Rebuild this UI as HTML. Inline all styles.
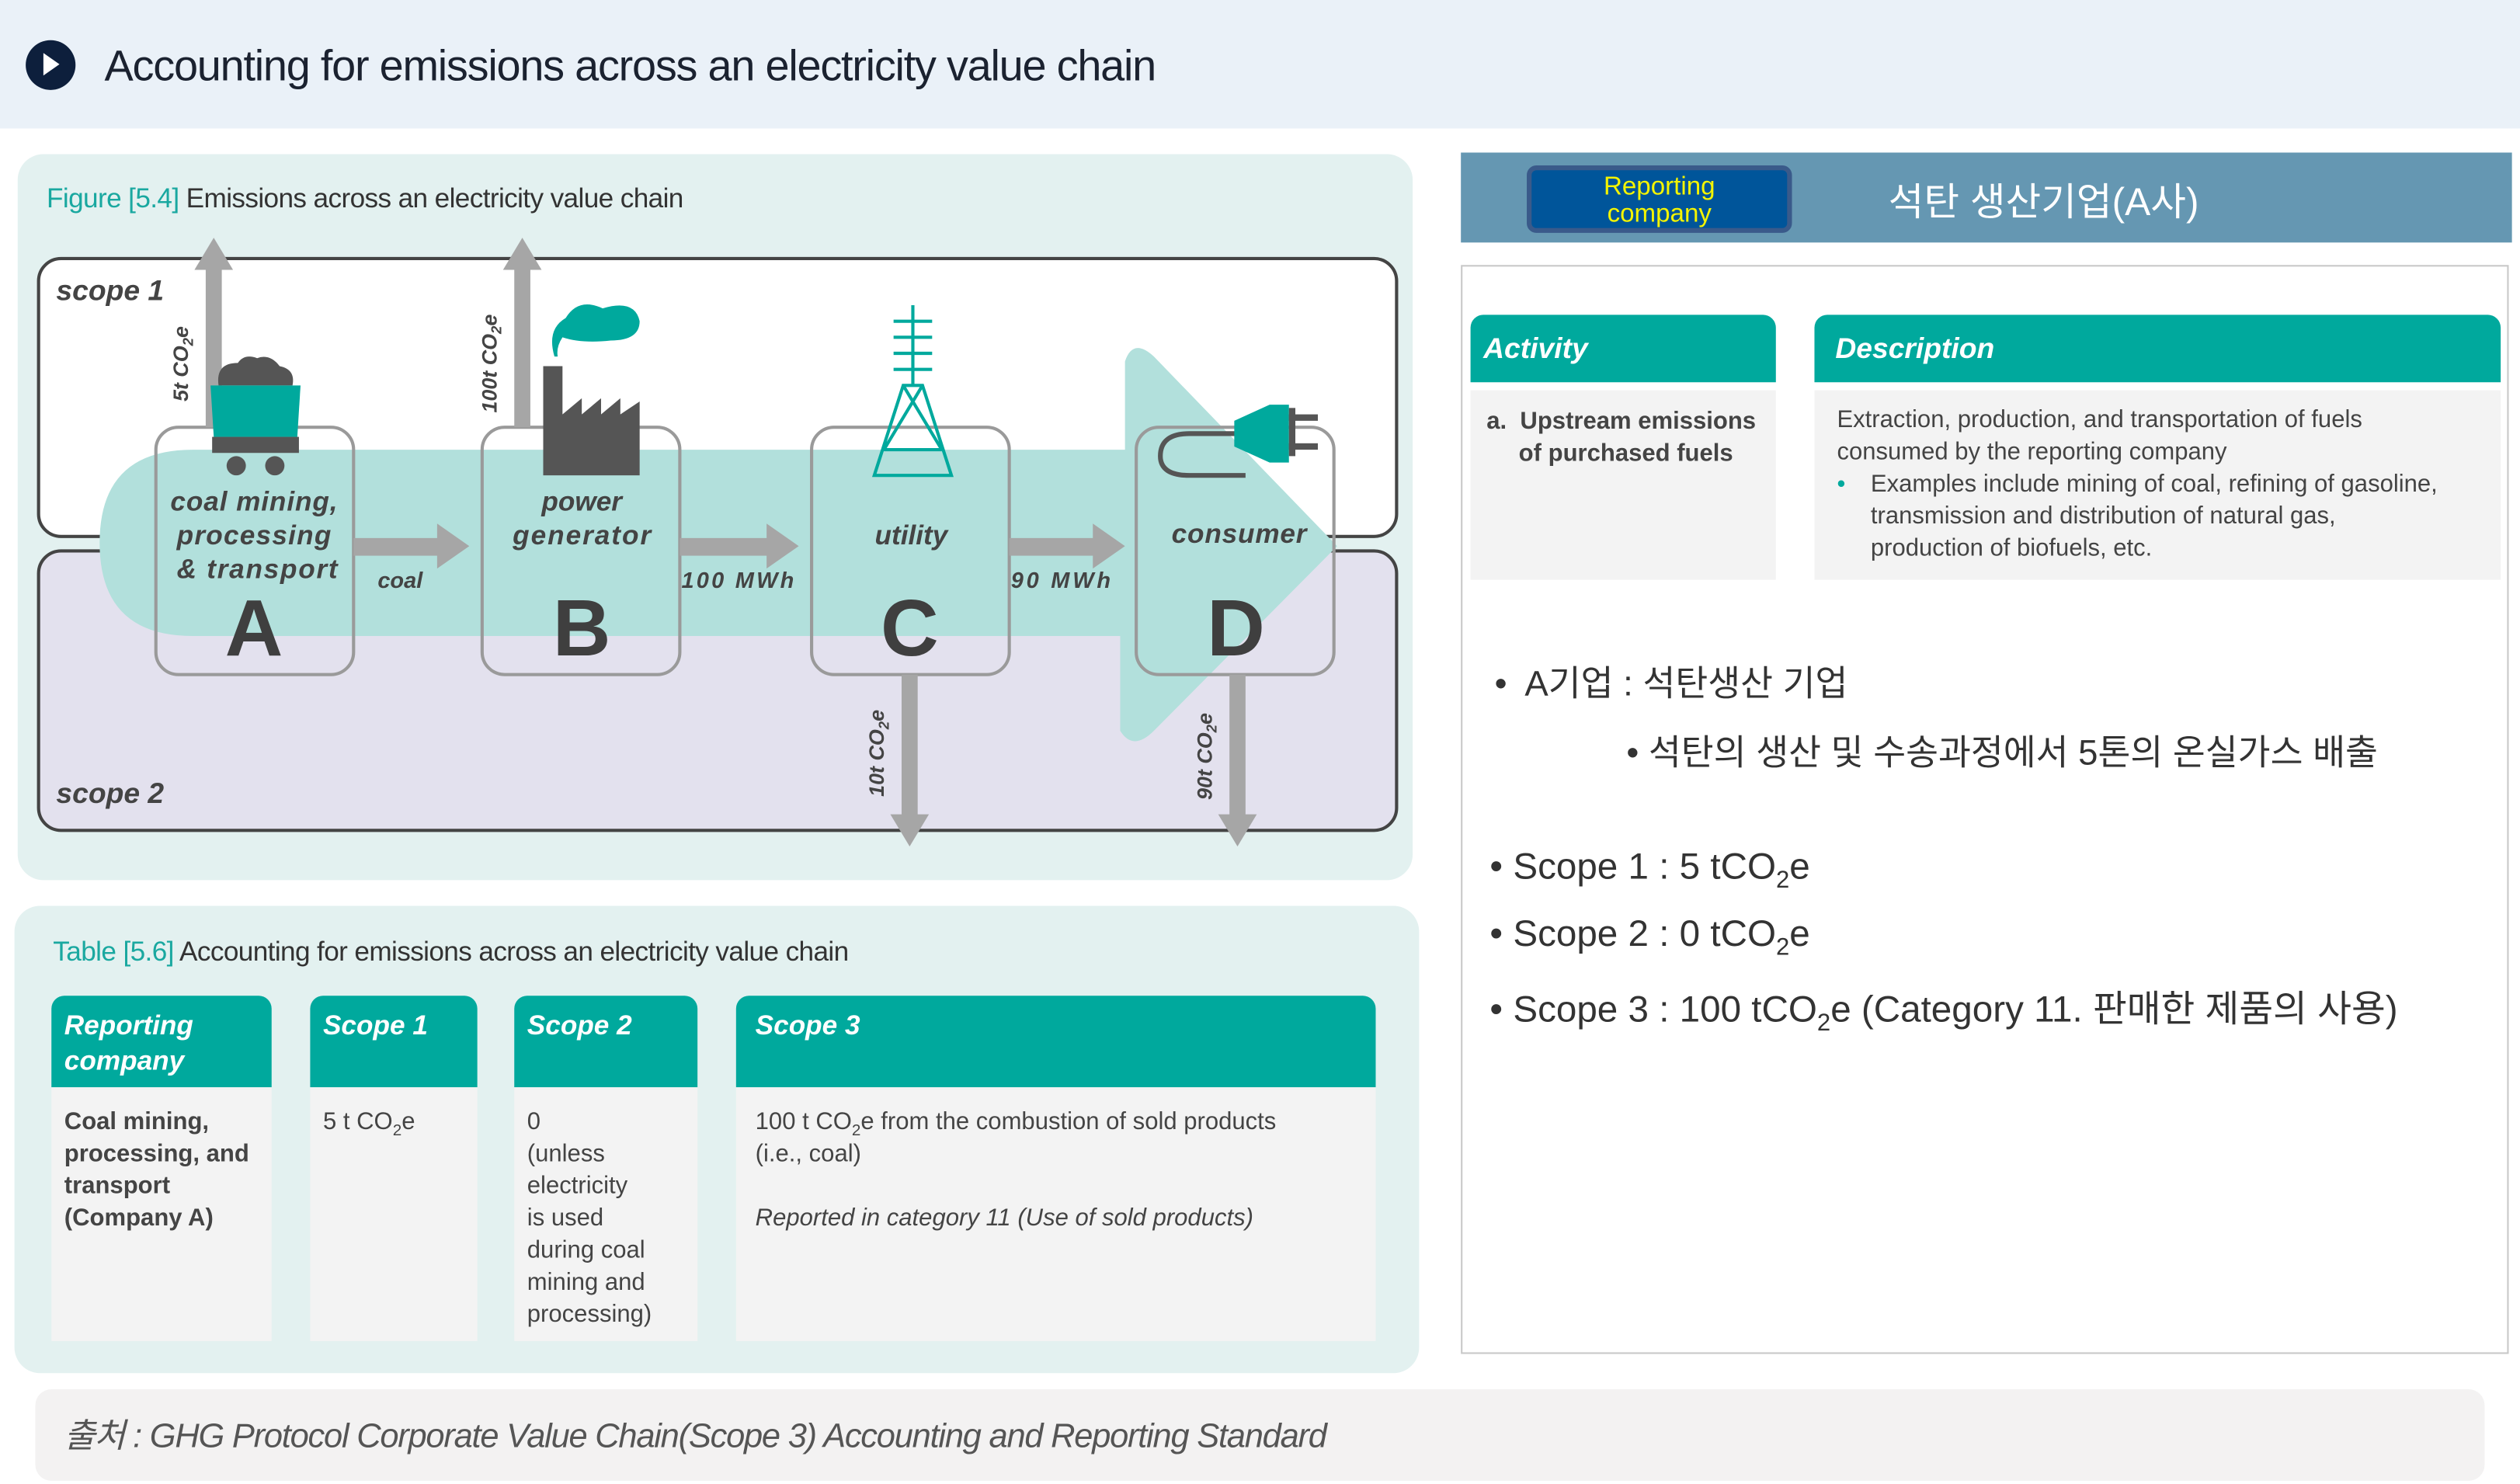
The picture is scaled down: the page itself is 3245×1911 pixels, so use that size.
<!DOCTYPE html>
<html><head><meta charset="utf-8">
<style>
html,body{margin:0;padding:0;background:#fff;}
body{width:3245px;height:1911px;overflow:hidden;position:relative;}
#w{position:absolute;left:0;top:0;width:1568px;height:924px;transform:scale(2.0695,2.0682);transform-origin:0 0;font-family:"Liberation Sans","Noto Sans CJK KR",sans-serif;color:#333;}
.a{position:absolute;}
sub{line-height:0;font-size:10px;}
.th{background:#00a99d;color:#fff;font-weight:bold;font-style:italic;font-size:17px;border-radius:8px 8px 0 0;box-sizing:border-box;padding:8px 8px;line-height:22px;}
.tb{background:#f3f3f3;font-size:15px;line-height:20px;box-sizing:border-box;padding:12px 8px;color:#444;}
.kr{font-family:"Liberation Sans","Noto Sans CJK KR",sans-serif;}
</style></head><body><div id="w">
<div class="a" style="left:0;top:0;width:1568px;height:80px;background:#eaf1f8"></div>
<div class="a" style="left:16px;top:25px;width:31px;height:31px;border-radius:50%;background:#0d1f3c"></div>
<div class="a" style="left:27px;top:33px;width:0;height:0;border-left:10px solid #fff;border-top:7px solid transparent;border-bottom:7px solid transparent"></div>
<div class="a" style="left:65px;top:26px;font-size:27px;color:#1b2230;white-space:nowrap;letter-spacing:-0.6px">Accounting for emissions across an electricity value chain</div>

<div class="a" style="left:11px;top:96px;width:868px;height:452px;background:#e3f1f0;border-radius:16px"></div>
<div class="a" style="left:29px;top:114px;font-size:17px;white-space:nowrap;letter-spacing:-0.3px"><span style="color:#1aa8a0">Figure [5.4]</span> Emissions across an electricity value chain</div>

<svg class="a" style="left:0;top:0" width="900" height="560" viewBox="0 0 900 560">
<rect x="24" y="161" width="845" height="173" rx="14" fill="#fff" stroke="#444" stroke-width="2"/>
<rect x="24" y="343" width="845" height="174" rx="14" fill="#e3e1ee" stroke="#444" stroke-width="2"/>
<path d="M120 280 H700 V225 Q705 210 718 222 L832 340 L718 455 Q705 468 697 455 V396 H120 Q62 396 62 338 Q62 280 120 280Z" fill="#b2e0dc"/>
<g fill="none" stroke="#9a9a9a" stroke-width="2">
<rect x="97" y="266" width="123" height="154" rx="14"/>
<rect x="300" y="266" width="123" height="154" rx="14"/>
<rect x="505" y="266" width="123" height="154" rx="14"/>
<rect x="707" y="266" width="123" height="154" rx="14"/>
</g>
<g fill="#a6a6a6">
<rect x="128" y="165" width="10" height="101"/><polygon points="121,168 133,148 145,168"/>
<rect x="320" y="165" width="10" height="101"/><polygon points="313,168 325,148 337,168"/>
<rect x="561" y="420" width="10" height="90"/><polygon points="554,507 566,527 578,507"/>
<rect x="765" y="420" width="10" height="90"/><polygon points="758,507 770,527 782,507"/>
<rect x="220" y="335" width="54" height="11"/><polygon points="272,326 292,340 272,354"/>
<rect x="423" y="335" width="56" height="11"/><polygon points="477,326 497,340 477,354"/>
<rect x="628" y="335" width="54" height="11"/><polygon points="680,326 700,340 680,354"/>
</g>
<path d="M136 240 Q134 226 148 226 Q152 220 160 223 Q168 220 174 228 Q184 230 182 240Z" fill="#555"/>
<path d="M131 240 H187 L185 272 H133Z" fill="#00a99d"/>
<rect x="132" y="272" width="54" height="10" fill="#555"/>
<circle cx="147" cy="290" r="6" fill="#555"/><circle cx="171" cy="290" r="6" fill="#555"/>
<path d="M338 228 H350 V258 L362 248 V258 L374 248 V258 L386 248 V258 L398 250 V296 H338Z" fill="#555"/>
<path d="M345 222 Q340 205 352 198 Q360 185 375 192 Q395 186 398 200 Q398 212 380 212 Q362 214 350 210 Q346 216 347 222Z" fill="#00a99d"/>
<g stroke="#00a99d" stroke-width="2" fill="none">
<line x1="568" y1="190" x2="568" y2="240"/>
<line x1="556" y1="200" x2="580" y2="200"/><line x1="556" y1="210" x2="580" y2="210"/><line x1="556" y1="220" x2="580" y2="220"/><line x1="556" y1="230" x2="580" y2="230"/>
<path d="M562 240 L544 296 H592 L574 240Z M562 240 L586 280 M574 240 L550 280 M550 280 H586"/>
</g>
<path d="M790 270 H740 Q722 270 722 284 Q722 296 740 296 H775" fill="none" stroke="#555" stroke-width="3"/>
<path d="M768 262 L790 252 H802 V288 H790 L768 278Z" fill="#00a99d"/>
<rect x="802" y="258" width="18" height="4" fill="#555"/><rect x="802" y="276" width="18" height="4" fill="#555"/>
<rect x="802" y="254" width="4" height="30" fill="#555"/>
<g font-family="Liberation Sans, sans-serif" font-weight="bold" font-style="italic" fill="#444">
<text x="35" y="187" font-size="18">scope 1</text>
<text x="35" y="500" font-size="18">scope 2</text>
<text x="158" y="318" font-size="17" text-anchor="middle" textLength="104">coal mining,</text>
<text x="158" y="339" font-size="17" text-anchor="middle" textLength="96">processing</text>
<text x="160" y="360" font-size="17" text-anchor="middle" textLength="100">&amp; transport</text>
<text x="362" y="318" font-size="17" text-anchor="middle">power</text>
<text x="362" y="339" font-size="17" text-anchor="middle" textLength="86">generator</text>
<text x="567" y="339" font-size="17" text-anchor="middle">utility</text>
<text x="771" y="338" font-size="17" text-anchor="middle" textLength="84">consumer</text>
<text x="235" y="366" font-size="14">coal</text>
<text x="424" y="366" font-size="14" textLength="70">100 MWh</text>
<text x="629" y="366" font-size="14" textLength="62">90 MWh</text>
<text transform="translate(117,250) rotate(-90)" font-size="13">5t CO<tspan font-size="9" dy="3">2</tspan><tspan dy="-3">e</tspan></text>
<text transform="translate(309,257) rotate(-90)" font-size="13">100t CO<tspan font-size="9" dy="3">2</tspan><tspan dy="-3">e</tspan></text>
<text transform="translate(550,496) rotate(-90)" font-size="13">10t CO<tspan font-size="9" dy="3">2</tspan><tspan dy="-3">e</tspan></text>
<text transform="translate(754,498) rotate(-90)" font-size="13">90t CO<tspan font-size="9" dy="3">2</tspan><tspan dy="-3">e</tspan></text>
</g>
<g font-family="Liberation Sans, sans-serif" font-weight="bold" fill="#3f3f3f" font-size="50" text-anchor="middle">
<text x="158" y="408">A</text><text x="362" y="408">B</text><text x="566" y="408">C</text><text x="769" y="408">D</text>
</g>
</svg>

<div class="a" style="left:9px;top:564px;width:874px;height:291px;background:#e3f1f0;border-radius:16px"></div>
<div class="a" style="left:33px;top:583px;font-size:17px;white-space:nowrap;letter-spacing:-0.3px"><span style="color:#1aa8a0">Table [5.6]</span> Accounting for emissions across an electricity value chain</div>
<div class="a th" style="left:32px;top:620px;width:137px;height:57px">Reporting<br>company</div>
<div class="a th" style="left:193px;top:620px;width:104px;height:57px">Scope 1</div>
<div class="a th" style="left:320px;top:620px;width:114px;height:57px">Scope 2</div>
<div class="a th" style="left:458px;top:620px;width:398px;height:57px;padding-left:12px">Scope 3</div>
<div class="a tb" style="left:32px;top:677px;width:137px;height:158px;font-weight:bold">Coal mining, processing, and transport (Company A)</div>
<div class="a tb" style="left:193px;top:677px;width:104px;height:158px">5 t CO<sub>2</sub>e</div>
<div class="a tb" style="left:320px;top:677px;width:114px;height:158px">0<br>(unless<br>electricity<br>is used<br>during coal<br>mining and<br>processing)</div>
<div class="a tb" style="left:458px;top:677px;width:398px;height:158px;padding-left:12px">100 t CO<sub>2</sub>e from the combustion of sold products<br>(i.e., coal)<br><br><i>Reported in category 11 (Use of sold products)</i></div>

<div class="a" style="left:22px;top:865px;width:1524px;height:57px;background:#f3f2f2;border-radius:10px"></div>
<div class="a kr" style="left:40px;top:878px;font-size:21px;font-style:italic;color:#555;white-space:nowrap;letter-spacing:-0.6px">출처 : GHG Protocol Corporate Value Chain(Scope 3) Accounting and Reporting Standard</div>

<div class="a" style="left:909px;top:95px;width:654px;height:56px;background:#6597b2"></div>
<div class="a" style="left:950px;top:103px;width:165px;height:42px;background:#00559a;border:3px solid #3a5a8a;border-radius:6px;box-sizing:border-box;color:#f4f400;text-align:center;font-size:16px;line-height:17px;padding-top:2px">Reporting<br>company</div>
<div class="a kr" style="left:1175px;top:106px;font-size:24px;color:#fff;white-space:nowrap">석탄 생산기업(A사)</div>

<div class="a" style="left:909px;top:165px;width:652px;height:678px;border:1px solid #c8c8c8;box-sizing:border-box;background:#fff"></div>
<div class="a th" style="left:915px;top:196px;width:190px;height:42px;font-size:18px;padding-top:10px">Activity</div>
<div class="a th" style="left:1129px;top:196px;width:427px;height:42px;font-size:18px;padding-top:10px;padding-left:13px">Description</div>
<div class="a tb" style="left:915px;top:243px;width:190px;height:118px;font-weight:bold;padding:10px 8px 0 30px;text-indent:-20px;font-size:15px">a.&nbsp; Upstream emissions of purchased fuels</div>
<div class="a tb" style="left:1129px;top:243px;width:427px;height:118px;padding:9px 14px 0 14px;font-size:15px;line-height:20px">Extraction, production, and transportation of fuels<br>consumed by the reporting company<div style="padding-left:21px;position:relative"><span style="position:absolute;left:0;color:#00a99d">•</span>Examples include mining of coal, refining of gasoline,<br>transmission and distribution of natural gas,<br>production of biofuels, etc.</div></div>

<div class="a kr" style="left:930px;top:408px;font-size:22px;color:#333;white-space:nowrap">•&nbsp; A기업 : 석탄생산 기업</div>
<div class="a kr" style="left:1012px;top:451px;font-size:22px;color:#333;white-space:nowrap">• 석탄의 생산 및 수송과정에서 5톤의 온실가스 배출</div>
<div class="a kr" style="left:927px;top:526px;font-size:23px;color:#333;white-space:nowrap">• Scope 1 : 5 tCO<sub style="font-size:15px">2</sub>e</div>
<div class="a kr" style="left:927px;top:568px;font-size:23px;color:#333;white-space:nowrap">• Scope 2 : 0 tCO<sub style="font-size:15px">2</sub>e</div>
<div class="a kr" style="left:927px;top:609px;font-size:23px;color:#333;white-space:nowrap">• Scope 3 : 100 tCO<sub style="font-size:15px">2</sub>e (Category 11. 판매한 제품의 사용)</div>
</div></body></html>
